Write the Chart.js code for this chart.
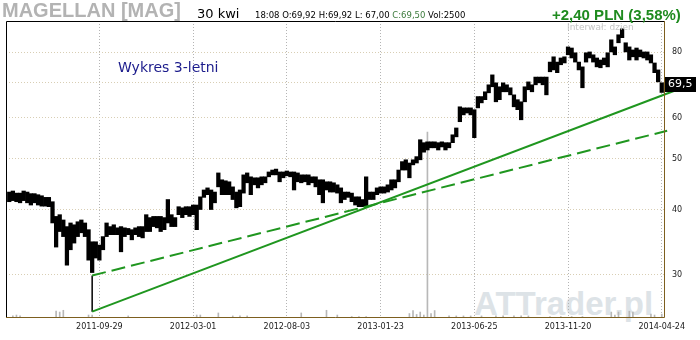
<!DOCTYPE html>
<html><head><meta charset="utf-8">
<script src="https://cdn.jsdelivr.net/npm/chart.js@4.4.1/dist/chart.umd.min.js"></script>
<style>
html,body{margin:0;padding:0;background:#fff;}
#wrap{position:relative;width:700px;height:340px;overflow:hidden;background:#fff;}
#c{position:absolute;left:0;top:0;}
.t{position:absolute;white-space:nowrap;line-height:1;}
</style></head><body>
<div id="wrap">
<div class="t" style="left:474px;top:285px;font:bold 33px 'Liberation Sans',Arial,sans-serif;color:#dde3e7;">ATTrader.pl</div>
<canvas id="c" width="700" height="340"></canvas>
<div class="t" style="left:2px;top:-0.5px;font:bold 20px 'Liberation Sans',Arial,sans-serif;color:#b3b3b3;line-height:20px;">MAGELLAN [MAG]</div>
<div class="t" style="left:197px;top:6.3px;font:13px 'DejaVu Sans',sans-serif;color:#000;">30 kwi</div>
<div class="t" style="left:255px;top:10.1px;font:8.5px 'DejaVu Sans',sans-serif;color:#000;">18:08 O:69,92 H:69,92 L: 67,00 <span style="color:#3b7a3b">C:69,50</span> Vol:2500</div>
<div class="t" style="left:552px;top:5.6px;font:bold 15px 'Liberation Sans',Arial,sans-serif;color:#1f8b1f;">+2,40 PLN (3,58%)</div>
<div class="t" style="left:567px;top:21.7px;font:9px 'DejaVu Sans',sans-serif;color:#c4c4c4;">Interwał: dzien</div>
<div class="t" style="left:118px;top:58.9px;font:14px 'DejaVu Sans',sans-serif;color:#1c1c8c;">Wykres 3-letni</div>
</div>
<script>
// ---- data (one sample = 4 sessions) ----
const priceLow = [41.4,41.6,41.4,41.2,41.6,41.2,40.8,41.2,40.8,40.6,40.6,40.5,37.7,33.9,36.3,35.5,31.3,33.5,34.5,35.5,
36.1,35.5,32.0,30.3,32.3,32.0,33.5,35.5,35.8,35.8,35.8,33.2,35.5,35.8,35.0,35.8,35.5,35.3,36.3,36.3,
37.1,36.9,36.3,36.6,37.7,37.1,37.1,39.1,38.6,39.1,38.8,39.1,36.6,40.0,42.2,42.7,40.0,41.2,44.2,42.7,
42.7,42.7,41.8,40.3,40.5,43.0,45.0,42.7,44.6,44.0,44.6,45.0,46.2,46.6,46.6,45.2,46.0,46.4,46.2,43.6,
45.2,45.0,45.2,44.6,45.0,44.2,42.7,41.2,43.6,43.2,43.2,43.0,41.2,41.8,42.2,41.4,40.8,40.5,40.5,40.5,
41.8,41.8,42.7,43.0,43.0,43.2,43.6,44.0,45.2,47.6,47.6,46.0,48.7,49.1,49.8,51.5,52.0,52.5,52.5,52.0,
52.7,52.0,52.5,53.7,55.1,58.9,60.7,61.2,60.7,54.9,62.6,64.0,64.9,66.9,68.7,64.3,64.9,67.2,67.2,66.3,
62.9,62.1,59.4,64.3,67.8,67.2,69.3,69.9,69.3,66.3,73.4,74.0,73.1,75.7,76.3,79.1,78.0,76.6,74.0,68.4,
76.6,78.0,76.6,75.0,74.7,75.7,75.0,80.1,79.1,83.4,85.3,80.1,77.3,78.4,77.3,78.4,78.0,77.3,76.3,73.1,
70.2,67.0];
const priceHigh = [43.2,43.4,43.0,43.0,43.4,43.2,42.9,42.9,42.7,42.5,42.2,42.2,41.4,38.8,39.1,38.2,37.1,37.7,37.4,37.9,
38.2,37.7,36.6,34.7,34.7,34.2,35.5,37.7,37.1,37.4,36.9,37.1,36.9,36.8,36.6,36.9,37.1,37.1,39.1,38.6,
38.8,38.8,38.8,38.6,41.8,39.1,38.6,40.5,40.3,40.5,40.5,40.8,40.8,42.3,43.6,44.0,43.6,43.2,47.0,45.6,
45.4,45.2,44.2,43.2,43.6,46.6,47.0,46.2,46.0,46.0,46.2,46.2,47.2,47.6,47.8,47.2,47.2,47.4,47.2,47.2,
47.0,46.6,46.6,46.6,46.2,46.2,45.6,45.6,45.2,45.2,45.0,44.6,44.0,43.2,43.2,43.0,42.3,42.3,41.8,46.2,
43.2,43.2,44.0,44.2,44.2,44.6,45.6,45.6,47.6,49.4,49.8,49.1,49.8,50.5,54.4,53.7,53.9,53.9,53.9,53.7,
53.9,53.7,53.7,55.6,57.3,62.9,62.6,62.6,62.6,62.1,65.8,65.8,67.2,69.3,72.4,69.9,68.7,69.9,69.3,68.4,
66.3,64.9,64.3,68.7,70.2,69.3,71.7,71.7,71.7,71.7,76.6,78.4,76.6,78.0,78.4,81.9,81.5,79.8,76.6,75.0,
79.8,80.1,79.1,78.0,77.3,78.0,79.8,84.5,81.9,86.4,88.7,83.4,81.9,80.8,81.5,80.8,80.1,80.1,79.1,76.3,
74.0,69.92];
const volume = [0,0.7,1,0.7,0,0,0,0,0,0,0,0,0,2.3,2.0,2.6,0,0,0,0,
0,0,1,1,0,0,0,0,0,0,0,0,0,0.7,0,0,0,0,0,0,
0,0,0,0,0,0,0,0,0,0,0,0,1,1,0,0,0,0,1.7,0,
0,0,0.7,0,0.7,0,0.7,0,0,0,0,0,0,0,0,0,0,0,0,0,
0,1.7,0,0,0,0,0,0,2.6,0,0,1,0,0,0,0.5,0,0.5,0,0.5,
0,0,0,0,0,0,0,0,0,0,0,1.5,2.5,1.2,2,1,62.6,1.5,2.5,0,
0,0,0.7,0,0.7,0,0.7,0,0.7,0,0,0.7,0,0,0,0.7,0,0.7,0,0,
0.7,0,0.7,0,0.7,0,0,0,0,0,0.5,0,0,0.5,0,0,0.5,0,0,0.5,
0,0,0,0,0,0,0,2,1,2,0,0,2.3,2,0,0,0,0,1.3,1,
0,1.3];
const tickIndex  = [25, 51, 77, 103, 129, 155, 181];
const tickLabels = ['2011-09-29','2012-03-01','2012-08-03','2013-01-23','2013-06-25','2013-11-20','2014-04-24'];
const yTicks = [30, 40, 50, 60, 70, 80];
const trendSolidX = [23, 184.7];
const trendSolidY = [25.5, 67.6];
const trendDashX = [23, 182.5];
const trendDashY = [29.9, 56.6];
const lastClose = 69.5;
const lastCloseLabel = '69,5';

const priceData = priceLow.map((lo, i) => ({x: i, y: [lo, priceHigh[i]]}));
const volData = volume.map((v, i) => ({x: i, y: v}));

const framePlugin = {
  id: 'frame',
  afterDraw(chart) {
    const {ctx, chartArea: a} = chart;
    ctx.save();
    ctx.lineWidth = 1;
    ctx.strokeStyle = '#000';
    ctx.beginPath();
    ctx.moveTo(a.left + 0.5, a.bottom);
    ctx.lineTo(a.left + 0.5, a.top + 0.5);
    ctx.lineTo(a.right, a.top + 0.5);
    ctx.stroke();
    ctx.strokeStyle = '#7d5f1f';
    ctx.beginPath();
    ctx.moveTo(a.right - 0.5, a.top);
    ctx.lineTo(a.right - 0.5, a.bottom - 0.5);
    ctx.lineTo(a.left, a.bottom - 0.5);
    ctx.stroke();
    const y = chart.scales.y.getPixelForValue(lastClose);
    ctx.fillStyle = '#000';
    ctx.fillRect(a.right, Math.round(y) - 7, 31, 15);
    ctx.fillStyle = '#fff';
    ctx.font = '11px "DejaVu Sans"';
    ctx.textBaseline = 'middle';
    ctx.textAlign = 'left';
    ctx.fillText(lastCloseLabel, a.right + 3, Math.round(y) + 0.5);
    ctx.restore();
  }
};

new Chart(document.getElementById('c'), {
  data: {
    datasets: [
      {type: 'line', data: trendSolidX.map((x, i) => ({x, y: trendSolidY[i]})), borderColor: '#1f961f', borderWidth: 2, pointRadius: 0, yAxisID: 'y', order: 1, clip: {left: 0, top: 0, right: 12, bottom: 0}},
      {type: 'line', data: trendDashX.map((x, i) => ({x, y: trendDashY[i]})), borderColor: '#1f961f', borderWidth: 2, borderDash: [14, 6], pointRadius: 0, yAxisID: 'y', order: 1, clip: {left: 0, top: 0, right: 12, bottom: 0}},
      {type: 'line', data: [{x: trendSolidX[0], y: trendSolidY[0]}, {x: trendDashX[0], y: trendDashY[0]}], borderColor: '#000', borderWidth: 1.5, pointRadius: 0, yAxisID: 'y', order: 1},
      {type: 'bar', data: priceData, backgroundColor: '#000', borderWidth: 0, grouped: false, categoryPercentage: 1, barPercentage: 1, yAxisID: 'y', order: 2},
      {type: 'bar', data: volData, backgroundColor: '#b8b8b8', borderWidth: 0, grouped: false, barThickness: 1, yAxisID: 'y2', order: 3}
    ]
  },
  options: {
    responsive: false,
    animation: false,
    devicePixelRatio: 1,
    layout: {padding: {left: 6, top: 21, right: 0, bottom: 0}},
    plugins: {legend: {display: false}, tooltip: {enabled: false}},
    scales: {
      x: {
        type: 'linear', min: -0.9, max: 181.9, offset: false,
        afterBuildTicks: s => { s.ticks = tickIndex.map(v => ({value: v})); },
        afterFit: s => { s.height = 22; },
        ticks: {autoSkip: false, maxRotation: 0, padding: 4, color: '#1a1a1a',
          font: {family: 'DejaVu Sans', size: 8},
          callback: (v, i) => tickLabels[i]},
        grid: {color: '#b4b4b4', drawTicks: false, lineWidth: 1, offset: false},
        border: {display: false, dash: [1, 2]}
      },
      y: {
        type: 'logarithmic', position: 'right', min: 24.8, max: 91.8,
        afterBuildTicks: s => { s.ticks = yTicks.map(v => ({value: v})); },
        afterFit: s => { s.width = 35; },
        ticks: {padding: 7, color: '#1a1a1a', font: {family: 'DejaVu Sans', size: 8},
          callback: v => String(v)},
        grid: {color: '#d8ceb4', drawTicks: false},
        border: {display: false, dash: [1, 2]}
      },
      y2: {type: 'linear', display: false, min: 0, max: 100}
    }
  },
  plugins: [framePlugin]
});
</script>
</body></html>
